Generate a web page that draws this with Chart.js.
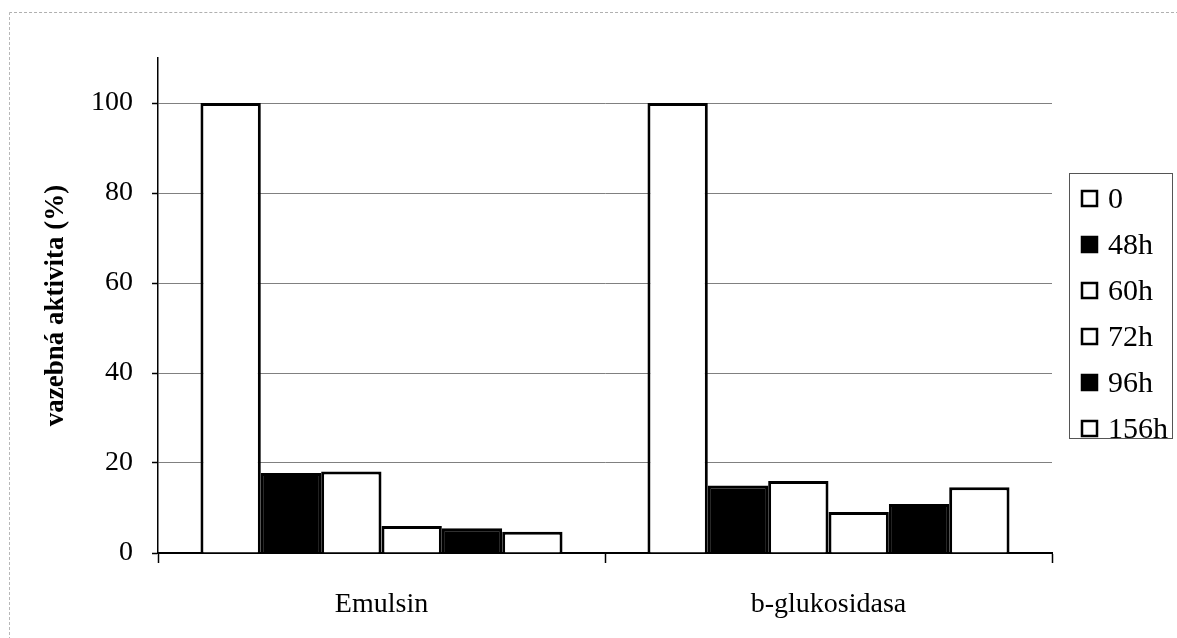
<!DOCTYPE html>
<html>
<head>
<meta charset="utf-8">
<script src="https://cdn.jsdelivr.net/npm/chart.js@4.4.1/dist/chart.umd.min.js"></script>
<style>
  html, body { margin: 0; padding: 0; background: #fff; }
  #wrap { position: relative; width: 1177px; height: 638px; overflow: hidden; }
  #frame { position: absolute; left: 9px; top: 12px; right: -2px; bottom: -2px;
           border-top: 1px dashed #b0b0b0; border-left: 1px dashed #b8b8b8; pointer-events: none; }
  canvas { position: absolute; left: 0; top: 0; }
</style>
</head>
<body>
<div id="wrap">
  <canvas id="c" width="1177" height="638"></canvas>
  <div id="frame"></div>
</div>
<script>
// Binding activity (% of initial) per enzyme over incubation time
const categories = ['Emulsin', 'b-glukosidasa'];
const seriesNames = ['0', '48h', '60h', '72h', '96h', '156h'];
const v0   = [100, 100];
const v48  = [17.8, 15.0];
const v60  = [18.1, 16.0];
const v72  = [6.0, 9.1];
const v96  = [5.5, 10.9];
const v156 = [4.7, 14.6];
const seriesValues = [v0, v48, v60, v72, v96, v156];
const seriesFill = ['#ffffff', '#000000', '#ffffff', '#ffffff', '#000000', '#ffffff'];
const yTickValues = [0, 20, 40, 60, 80, 100];

const serif = '"Liberation Serif", "Times New Roman", serif';
Chart.defaults.font.family = serif;
Chart.defaults.color = '#000';

// Boxed legend on the right, built from the datasets
const boxLegend = {
  id: 'boxLegend',
  afterDraw(chart) {
    const ctx = chart.ctx;
    ctx.save();
    ctx.strokeStyle = '#555';
    ctx.lineWidth = 1;
    ctx.strokeRect(1069.5, 173.5, 103, 265);
    ctx.font = '30px ' + serif;
    ctx.textBaseline = 'middle';
    ctx.textAlign = 'left';
    chart.data.datasets.forEach((ds, i) => {
      const cy = 198 + i * 46;
      ctx.fillStyle = ds.backgroundColor;
      ctx.fillRect(1082, cy - 7, 15, 15);
      ctx.lineWidth = 2.5;
      ctx.strokeStyle = '#000';
      ctx.strokeRect(1082, cy - 7, 15, 15);
      ctx.fillStyle = '#000';
      ctx.fillText(ds.label, 1108, cy + 2);
    });
    ctx.restore();
  }
};

new Chart(document.getElementById('c'), {
  type: 'bar',
  data: {
    labels: categories,
    datasets: seriesNames.map((name, i) => ({
      label: name,
      data: seriesValues[i],
      backgroundColor: seriesFill[i],
      borderColor: '#000',
      borderWidth: 3,
      categoryPercentage: 0.81,
      barPercentage: 1.0
    }))
  },
  options: {
    responsive: false,
    animation: false,
    devicePixelRatio: 1,
    layout: { padding: { top: 58, right: 125, left: 0, bottom: 0 } },
    plugins: {
      legend: { display: false },
      tooltip: { enabled: false }
    },
    scales: {
      x: {
        offset: true,
        grid: {
          offset: true,
          drawOnChartArea: false,
          drawTicks: true,
          tickLength: 10,
          tickColor: '#000',
          tickWidth: 1.5
        },
        border: { color: '#000', width: 2 },
        ticks: { font: { size: 28 }, color: '#000', padding: 25 },
        afterFit(s) { s.height = 85; }
      },
      y: {
        min: 0,
        max: 110,
        afterBuildTicks(s) { s.ticks = yTickValues.map(v => ({ value: v })); },
        ticks: { font: { size: 28 }, color: '#000', padding: 19 },
        grid: {
          color: '#808080',
          lineWidth: 1,
          borderDash: [11, 5, 3, 5],
          drawTicks: true,
          tickLength: 6,
          tickColor: '#000',
          tickWidth: 1.5,
          tickBorderDash: [1, 0]
        },
        border: { color: '#000', width: 1.5 },
        title: {
          display: true,
          text: 'vazebná aktivita (%)',
          font: { size: 27, weight: 'bold' },
          color: '#000',
          padding: { top: 40, bottom: 0 }
        },
        afterFit(s) { s.width = 158; }
      }
    }
  },
  plugins: [boxLegend]
});
</script>
</body>
</html>
